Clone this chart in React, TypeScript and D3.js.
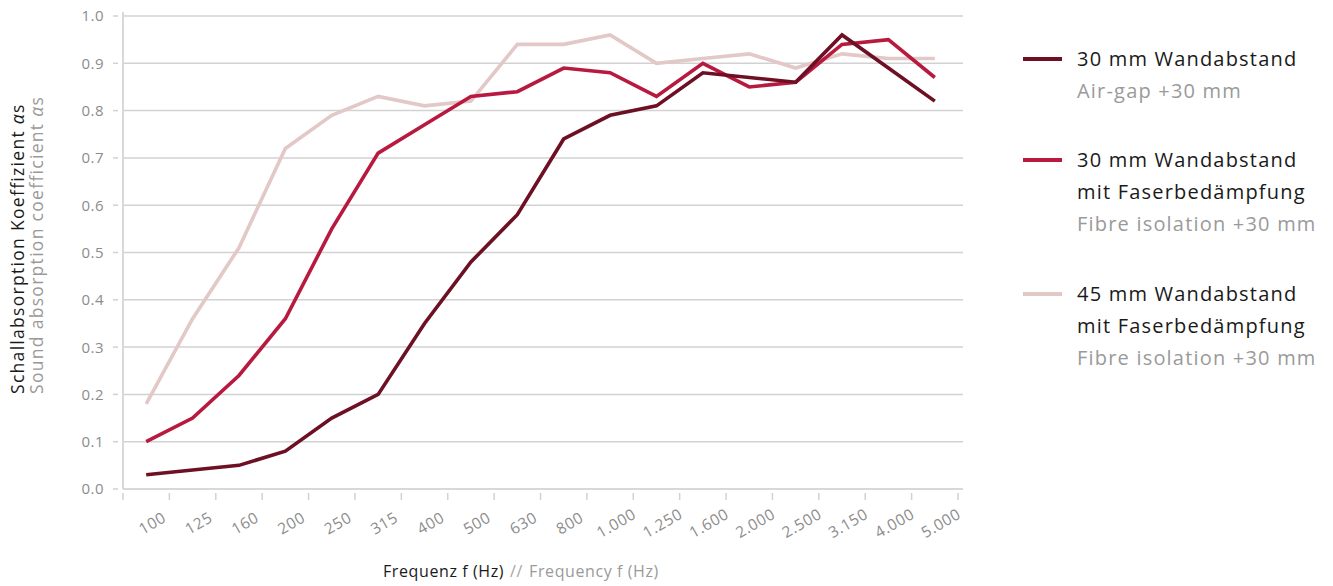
import React from "react";
import * as d3 from "d3";

const categories = ["100","125","160","200","250","315","400","500","630","800","1.000","1.250","1.600","2.000","2.500","3.150","4.000","5.000"];
const seriesAirGap = [0.03,0.04,0.05,0.08,0.15,0.20,0.35,0.48,0.58,0.74,0.79,0.81,0.88,0.87,0.86,0.96,0.89,0.82];
const seriesFibre30 = [0.10,0.15,0.24,0.36,0.55,0.71,0.77,0.83,0.84,0.89,0.88,0.83,0.90,0.85,0.86,0.94,0.95,0.87];
const seriesFibre45 = [0.18,0.36,0.51,0.72,0.79,0.83,0.81,0.82,0.94,0.94,0.96,0.90,0.91,0.92,0.89,0.92,0.91,0.91];
const yTicks = [0,0.1,0.2,0.3,0.4,0.5,0.6,0.7,0.8,0.9,1.0];

const series = [
  { name: ["30 mm Wandabstand"], sub: "Air-gap +30 mm", values: seriesAirGap, color: "#6e1024" },
  { name: ["30 mm Wandabstand", "mit Faserbedämpfung"], sub: "Fibre isolation +30 mm", values: seriesFibre30, color: "#b8193f" },
  { name: ["45 mm Wandabstand", "mit Faserbedämpfung"], sub: "Fibre isolation +30 mm", values: seriesFibre45, color: "#e2c8c7" },
];

const FONT = "'Open Sans', 'Noto Sans', sans-serif";

export default function App() {
  const left = 123, right = 958, top = 16, bottom = 489;
  const x = d3.scaleBand<string>().domain(categories).range([left, right]).padding(0);
  const y = d3.scaleLinear().domain([0, 1]).range([bottom, top]);
  const line = d3.line<number>()
    .x((_, i) => (x(categories[i]) as number) + x.bandwidth() / 2)
    .y((v) => y(v));

  const tickXs = categories.map((c) => x(c) as number).concat([right]);
  const legendStarts = [59, 160, 294];

  return (
    <svg width={1333} height={586} style={{ position: "fixed", left: 0, top: 0, background: "#fff" }} fontFamily={FONT}>
      {yTicks.map((t) => (
        <g key={t}>
          <line x1={left} x2={963} y1={y(t)} y2={y(t)} stroke="#d2d2d2" strokeWidth={1.5} />
          <line x1={113} x2={118} y1={y(t)} y2={y(t)} stroke="#d2d2d2" strokeWidth={1.5} />
          <text x={104} y={y(t)} dy="0.36em" textAnchor="end" fontSize={15} letterSpacing={0.5} fill="#8c8c8c">{t.toFixed(1)}</text>
        </g>
      ))}
      <line x1={left} x2={left} y1={12} y2={bottom} stroke="#d8d8d8" strokeWidth={2} />
      <line x1={left} x2={963} y1={bottom} y2={bottom} stroke="#d8d8d8" strokeWidth={2} />
      {tickXs.map((tx, i) => (
        <line key={i} x1={tx} x2={tx} y1={493} y2={500} stroke="#d2d2d2" strokeWidth={1.5} />
      ))}
      {categories.map((c) => (
        <text key={c} transform={`translate(${(x(c) as number) + x.bandwidth() / 2 + 6},${523}) rotate(-30)`}
          textAnchor="middle" dy="0.36em" fontSize={15.5} letterSpacing={0.6} fill="#8c8c8c">{c}</text>
      ))}
      {series.slice().reverse().map((s) => (
        <path key={s.color} d={line(s.values) || ""} fill="none" stroke={s.color} strokeWidth={3.6} strokeLinejoin="miter" />
      ))}
      <text transform="translate(24,394) rotate(-90)" fontSize={17.5} letterSpacing={1.3} fill="#1a1a1a">
        Schallabsorption Koeffizient <tspan fontStyle="italic">α</tspan>s
      </text>
      <text transform="translate(43,394) rotate(-90)" fontSize={17.5} letterSpacing={1.3} fill="#9a9a9a">
        Sound absorption coefficient <tspan fontStyle="italic">α</tspan>s
      </text>
      <text x={383} y={577} fontSize={16} letterSpacing={0.6} fill="#1a1a1a">
        Frequenz f (Hz)<tspan fill="#a5a5a5" dx={6}>//</tspan><tspan fill="#9a9a9a" dx={6}>Frequency f (Hz)</tspan>
      </text>
      {series.map((s, si) => {
        const y0 = legendStarts[si];
        const lines = [...s.name.map((n) => ({ t: n, c: "#1a1a1a" })), { t: s.sub, c: "#9a9a9a" }];
        return (
          <g key={si}>
            <line x1={1023} x2={1062} y1={y0} y2={y0} stroke={s.color} strokeWidth={4} />
            {lines.map((l, li) => (
              <text key={li} x={1077} y={y0 + li * 32} dy="0.36em" fontSize={20} letterSpacing={1.2} fill={l.c}>{l.t}</text>
            ))}
          </g>
        );
      })}
    </svg>
  );
}
